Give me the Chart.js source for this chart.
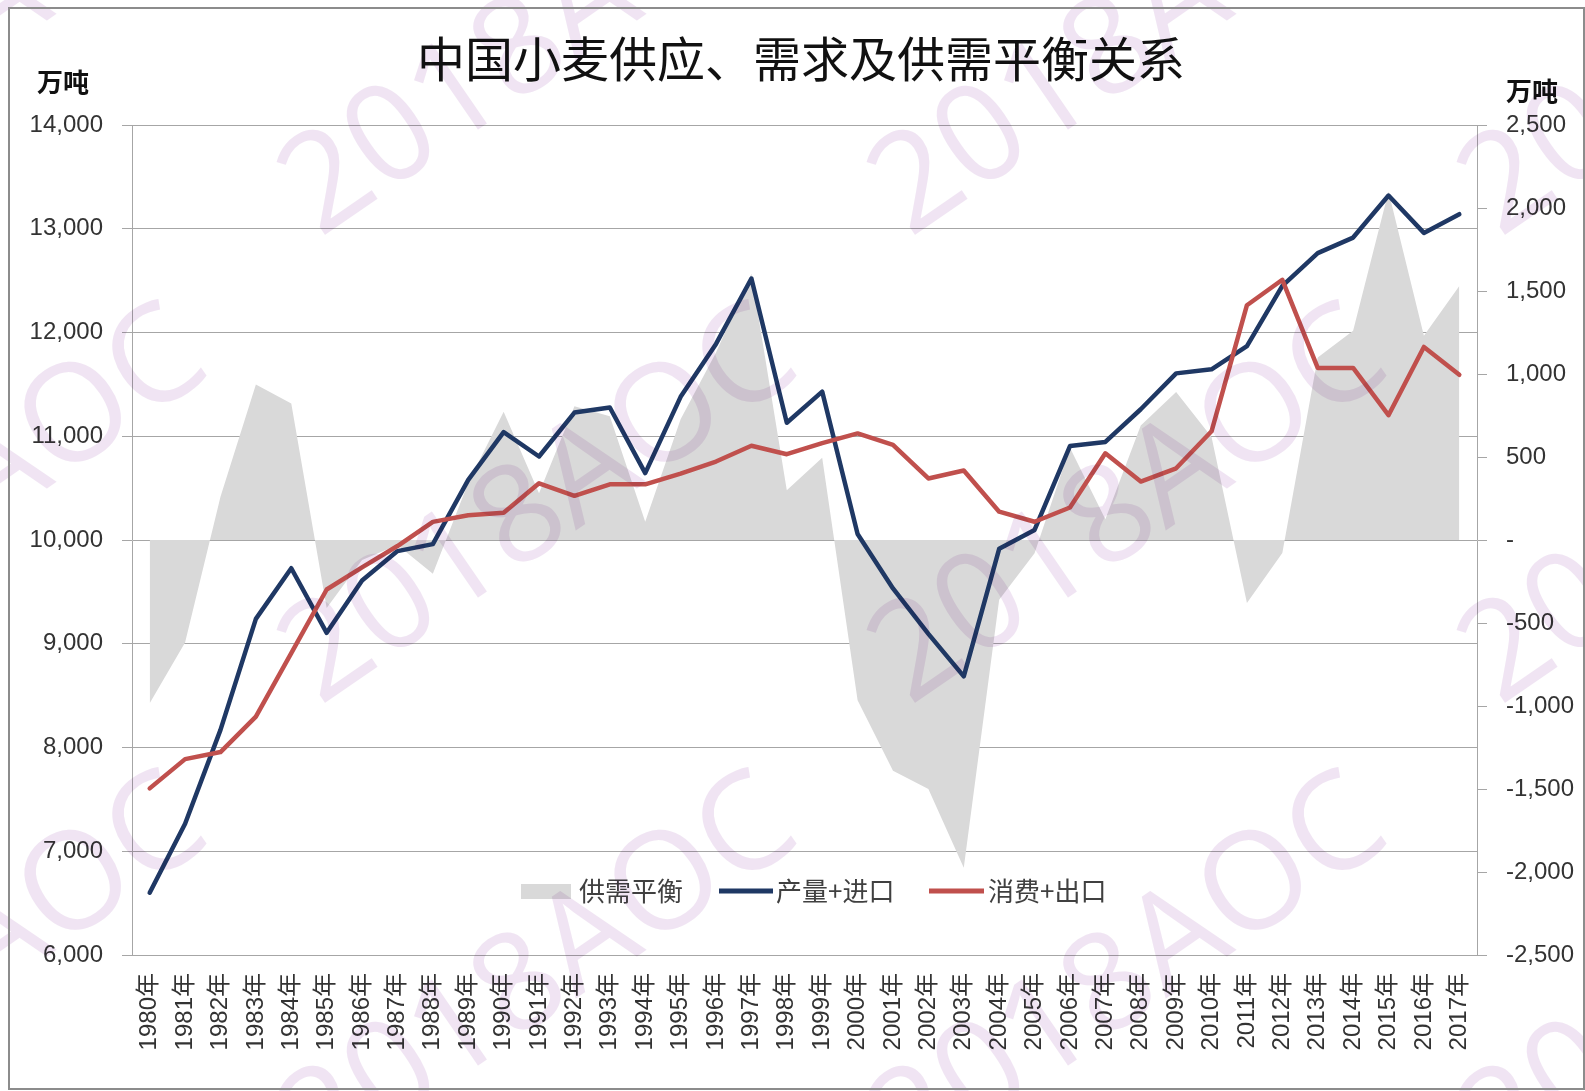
<!DOCTYPE html>
<html><head><meta charset="utf-8">
<script src="https://cdn.jsdelivr.net/npm/chart.js@4.4.1/dist/chart.umd.min.js"></script>
<style>html,body{margin:0;padding:0;background:#fff}canvas{display:block}</style>
</head><body>
<canvas id="c" width="1585" height="1091"></canvas>
<script>
const years = ['1980年','1981年','1982年','1983年','1984年','1985年','1986年','1987年','1988年','1989年',
  '1990年','1991年','1992年','1993年','1994年','1995年','1996年','1997年','1998年','1999年',
  '2000年','2001年','2002年','2003年','2004年','2005年','2006年','2007年','2008年','2009年',
  '2010年','2011年','2012年','2013年','2014年','2015年','2016年','2017年'];
// 产量+进口 (left axis, 万吨)
const supplyImport = [6600,7265,8170,9240,9728,9105,9610,9893,9960,10580,
  11040,10805,11228,11277,10645,11380,11890,12520,11130,11430,
  10058,9533,9095,8686,9915,10097,10905,10945,11260,11606,
  11645,11869,12450,12765,12915,13320,12960,13140];
// 消费+出口 (left axis, 万吨)
const consumeExport = [7606,7888,7956,8297,8910,9523,9737,9942,10175,10238,
  10263,10546,10426,10537,10537,10640,10756,10908,10827,10934,
  11027,10916,10593,10670,10273,10176,10313,10836,10563,10691,
  11048,12263,12508,11659,11659,11203,11861,11592];
// 供需平衡 (right axis, 万吨)
const balance = [-983,-618,261,937,822,-410,-120,-30,-204,345,
  772,281,805,745,110,727,1130,1604,300,495,
  -965,-1390,-1500,-1975,-360,-80,555,125,690,892,
  620,-379,-78,1100,1260,2100,1230,1530];
const seriesNames = ['供需平衡','产量+进口','消费+出口'];
const titleText = '中国小麦供应、需求及供需平衡关系';
const unitText = '万吨';
const watermarkText = '2018AOC';
const leftMin = 6000, leftMax = 14000, leftStep = 1000;
const rightMin = -2500, rightMax = 2500, rightStep = 500;

const COL_GRAY = '#d9d9d9', COL_BLUE = '#1f3864', COL_RED = '#c0504d';
const TICK_FONT = {family: '"Liberation Sans", "Noto Sans CJK SC", sans-serif', size: 24};

const decor = {
  id: 'decor',
  beforeDraw(chart) {
    const ctx = chart.ctx;
    ctx.save();
    ctx.fillStyle = '#fff';
    ctx.fillRect(0, 0, chart.width, chart.height);
    ctx.restore();
  },
  afterDraw(chart) {
    const ctx = chart.ctx;
    ctx.save();
    // title
    ctx.fillStyle = '#111';
    ctx.font = '48px "Noto Sans CJK SC"';
    ctx.textAlign = 'center';
    ctx.textBaseline = 'middle';
    ctx.fillText(titleText, 801, 59);
    // unit labels
    ctx.font = 'bold 26px "Noto Sans CJK SC"';
    ctx.textAlign = 'left';
    ctx.fillText(unitText, 37, 82);
    ctx.fillText(unitText, 1506, 91);
    // legend
    const ly = 891;
    ctx.font = '26px "Noto Sans CJK SC"';
    ctx.fillStyle = '#404040';
    ctx.textBaseline = 'middle';
    ctx.save(); ctx.fillStyle = COL_GRAY; ctx.fillRect(521, 884, 50, 15); ctx.restore();
    ctx.fillText(seriesNames[0], 579, ly);
    ctx.lineWidth = 5; ctx.lineCap = 'butt';
    ctx.strokeStyle = COL_BLUE; ctx.beginPath(); ctx.moveTo(719, ly); ctx.lineTo(773, ly); ctx.stroke();
    ctx.fillText(seriesNames[1], 776, ly);
    ctx.strokeStyle = COL_RED; ctx.beginPath(); ctx.moveTo(929, ly); ctx.lineTo(984, ly); ctx.stroke();
    ctx.fillText(seriesNames[2], 988, ly);
    // watermarks
    ctx.globalCompositeOperation = 'multiply';
    ctx.fillStyle = 'rgb(240,228,243)';
    ctx.font = '400 136px "Open Sans"';
    ctx.textAlign = 'center';
    ctx.textBaseline = 'middle';
    for (let i = -1; i <= 2; i++) {
      for (let j = -1; j <= 1; j++) {
        ctx.save();
        ctx.translate(540 + 590 * i, 508 + 468 * j);
        ctx.rotate(-34.5 * Math.PI / 180);
        ctx.fillText(watermarkText, 0, 0);
        ctx.restore();
      }
    }
    ctx.globalCompositeOperation = 'source-over';
    // outer border
    ctx.strokeStyle = '#8c8c8c';
    ctx.lineWidth = 2;
    ctx.strokeRect(9, 8, 1575, 1081);
    ctx.restore();
  }
};

new Chart(document.getElementById('c'), {
  type: 'line',
  data: {
    labels: years,
    datasets: [
      {label: seriesNames[2], data: consumeExport, yAxisID: 'y', borderColor: COL_RED, backgroundColor: COL_RED,
       borderWidth: 4.5, pointRadius: 0, tension: 0, fill: false, order: 0, borderJoinStyle: 'round', borderCapStyle: 'round'},
      {label: seriesNames[1], data: supplyImport, yAxisID: 'y', borderColor: COL_BLUE, backgroundColor: COL_BLUE,
       borderWidth: 4.5, pointRadius: 0, tension: 0, fill: false, order: 1, borderJoinStyle: 'round', borderCapStyle: 'round'},
      {label: seriesNames[0], data: balance, yAxisID: 'y2', borderColor: COL_GRAY, backgroundColor: COL_GRAY,
       borderWidth: 0, pointRadius: 0, tension: 0, fill: 'origin', order: 2}
    ]
  },
  options: {
    responsive: false,
    animation: false,
    devicePixelRatio: 1,
    layout: {padding: {top: 125, left: 0, right: 0, bottom: 0}},
    plugins: {legend: {display: false}, title: {display: false}, tooltip: {enabled: false}},
    scales: {
      x: {
        type: 'category', offset: true,
        grid: {display: false, drawTicks: false, tickLength: 0},
        border: {display: true, color: '#a6a6a6', width: 1},
        ticks: {minRotation: 90, maxRotation: 90, autoSkip: false, padding: 18, color: '#333', font: TICK_FONT},
        afterFit(s) { s.height = 136; }
      },
      y: {
        position: 'left', min: leftMin, max: leftMax,
        grid: {color: '#a6a6a6', lineWidth: 1, drawTicks: true, tickLength: 10},
        border: {display: true, color: '#a6a6a6', width: 1},
        ticks: {stepSize: leftStep, padding: 19, color: '#333', font: TICK_FONT,
          callback: v => v.toLocaleString('en-US')},
        afterFit(s) { s.width = 132; }
      },
      y2: {
        position: 'right', min: rightMin, max: rightMax,
        grid: {drawOnChartArea: false, color: '#a6a6a6', lineWidth: 1, drawTicks: true, tickLength: 10},
        border: {display: true, color: '#a6a6a6', width: 1},
        ticks: {stepSize: rightStep, padding: 19, color: '#333', font: TICK_FONT,
          callback: v => v === 0 ? '-' : v.toLocaleString('en-US')},
        afterFit(s) { s.width = 108; }
      }
    }
  },
  plugins: [decor]
});
</script>
</body></html>
